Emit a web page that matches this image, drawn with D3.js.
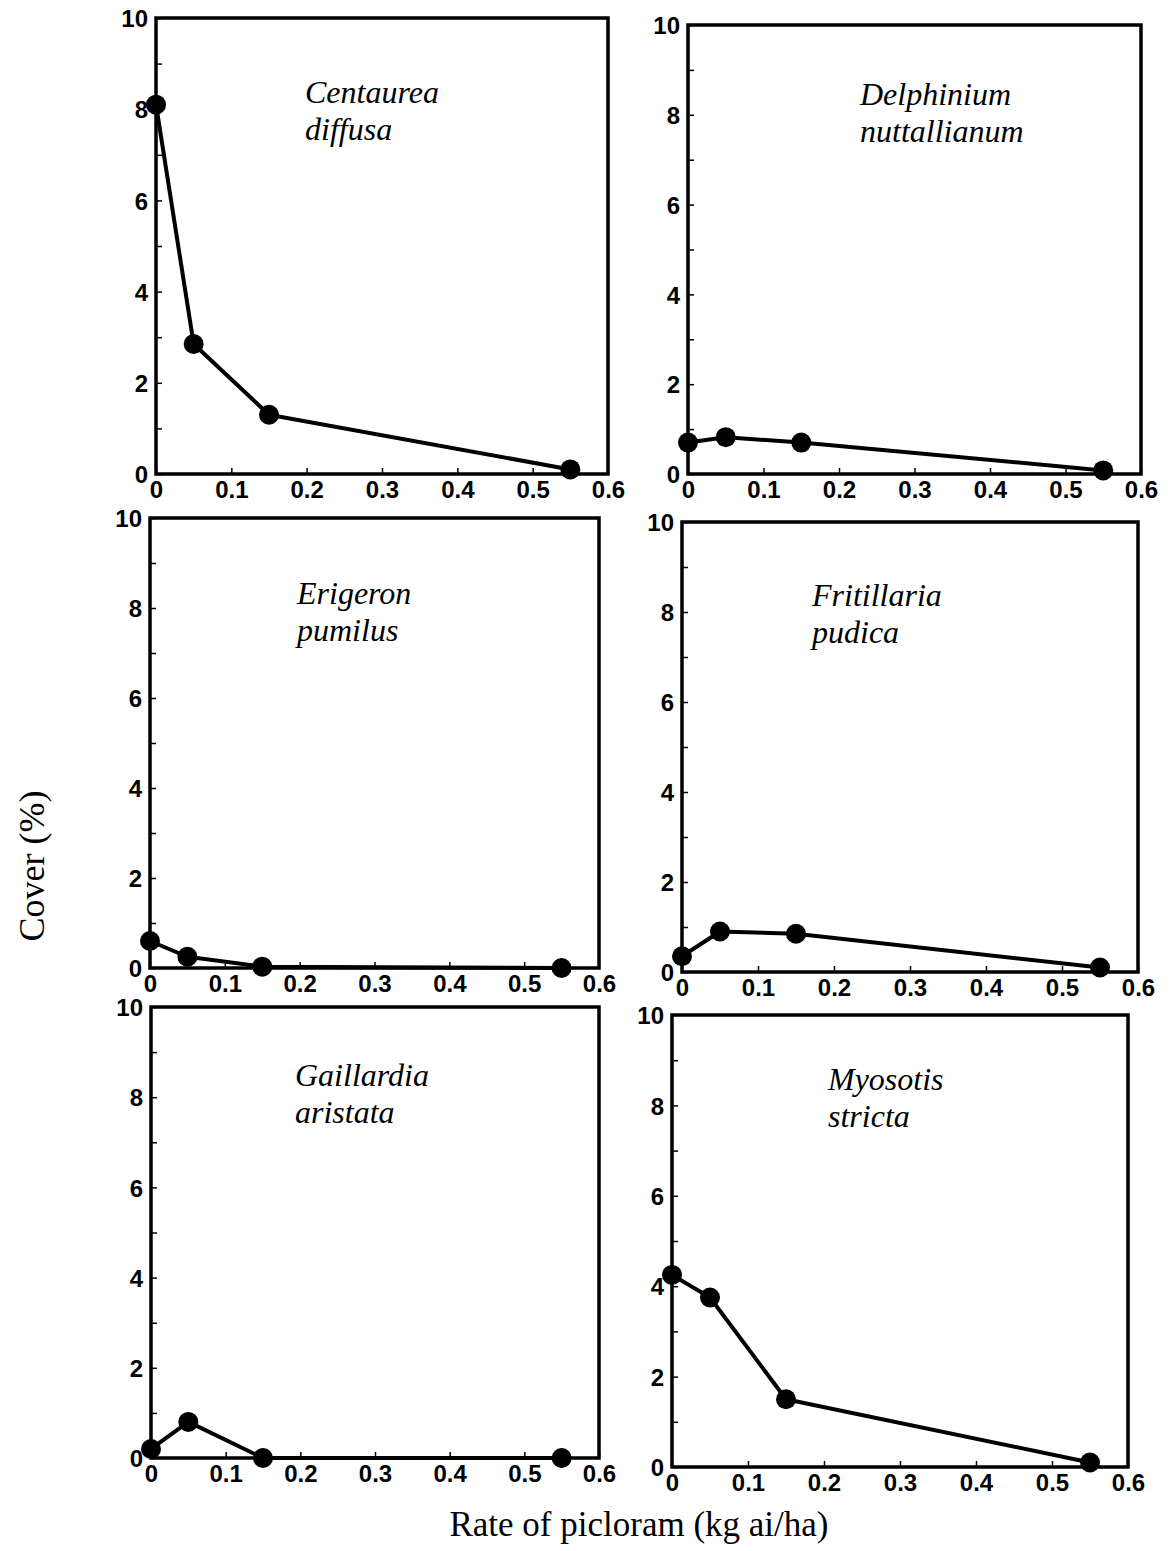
<!DOCTYPE html>
<html>
<head>
<meta charset="utf-8">
<script src="https://cdn.jsdelivr.net/npm/d3@7"></script>
<style>
  body { margin: 0; background: #fff; }
  svg { display: block; }
</style>
</head>
<body>
<svg id="chart" width="1169" height="1551"></svg>
<script>
// rates of picloram (kg ai/ha) and cover (%) per species
const rates = [0, 0.05, 0.15, 0.55];
const species = [
  ["Centaurea", "diffusa"],
  ["Delphinium", "nuttallianum"],
  ["Erigeron", "pumilus"],
  ["Fritillaria", "pudica"],
  ["Gaillardia", "aristata"],
  ["Myosotis", "stricta"]
];
const centaurea = [8.1, 2.85, 1.3, 0.1];
const delphinium = [0.7, 0.82, 0.7, 0.08];
const erigeron = [0.6, 0.25, 0.03, 0.0];
const fritillaria = [0.35, 0.9, 0.85, 0.1];
const gaillardia = [0.2, 0.8, 0.0, 0.0];
const myosotis = [4.25, 3.75, 1.5, 0.1];
const coverSeries = [centaurea, delphinium, erigeron, fritillaria, gaillardia, myosotis];

const xTicks = [0, 0.1, 0.2, 0.3, 0.4, 0.5, 0.6];
const xLabels = ["0", "0.1", "0.2", "0.3", "0.4", "0.5", "0.6"];
const yTicks = [0, 1, 2, 3, 4, 5, 6, 7, 8, 9, 10];

// panel boxes (left, top, right, bottom) and label position, scanned layout is slightly skewed
const boxes = [
  {l: 156, t: 18,   r: 608,  b: 474,  lx: 305, ly: 103},
  {l: 688, t: 25,   r: 1141, b: 474,  lx: 860, ly: 105},
  {l: 150, t: 518,  r: 599,  b: 968,  lx: 297, ly: 604},
  {l: 682, t: 522,  r: 1138, b: 972,  lx: 812, ly: 606},
  {l: 151, t: 1007, r: 599,  b: 1458, lx: 295, ly: 1086},
  {l: 672, t: 1015, r: 1128, b: 1467, lx: 828, ly: 1090}
];

const svg = d3.select('#chart');
const tickFont = '"Liberation Sans", Arial, sans-serif';
const serif = '"Liberation Serif", "Times New Roman", serif';

boxes.forEach((bx, i) => {
  const x = d3.scaleLinear().domain([0, 0.6]).range([bx.l, bx.r]);
  const y = d3.scaleLinear().domain([0, 10]).range([bx.b, bx.t]);
  const g = svg.append('g');

  const yAxis = d3.axisLeft(y)
    .tickValues(yTicks)
    .tickSize(-6)
    .tickPadding(8)
    .tickFormat(d => d % 2 === 0 ? d : '');
  const yG = g.append('g').attr('transform', 'translate(' + bx.l + ',0)').call(yAxis);

  const xAxis = d3.axisBottom(x)
    .tickValues(xTicks)
    .tickSize(-6)
    .tickPadding(7)
    .tickFormat((d, j) => xLabels[j]);
  const xG = g.append('g').attr('transform', 'translate(0,' + bx.b + ')').call(xAxis);

  [yG, xG].forEach(a => {
    a.select('.domain').remove();
    a.selectAll('line').attr('stroke', '#000').attr('stroke-width', 1.5);
    a.selectAll('text')
      .style('font-family', tickFont)
      .style('font-size', '24px')
      .style('font-weight', 'bold')
      .style('fill', '#000');
  });
  yG.selectAll('text').attr('dy', '0.36em');

  g.append('rect')
    .attr('x', bx.l).attr('y', bx.t)
    .attr('width', bx.r - bx.l).attr('height', bx.b - bx.t)
    .attr('fill', 'none').attr('stroke', '#000').attr('stroke-width', 3.5);

  const pts = rates.map((r, j) => ({r: r, v: coverSeries[i][j]}));
  const line = d3.line().x(d => x(d.r)).y(d => y(d.v));

  g.append('path')
    .datum(pts)
    .attr('d', line)
    .attr('fill', 'none')
    .attr('stroke', '#000')
    .attr('stroke-width', 4)
    .attr('stroke-linejoin', 'round');

  g.selectAll('circle')
    .data(pts)
    .enter().append('circle')
    .attr('cx', d => x(d.r))
    .attr('cy', d => y(d.v))
    .attr('r', 10)
    .attr('fill', '#000');

  const lab = g.append('text')
    .attr('x', bx.lx).attr('y', bx.ly)
    .style('font-family', serif)
    .style('font-style', 'italic')
    .style('font-size', '32px')
    .style('fill', '#000');
  lab.selectAll('tspan')
    .data(species[i])
    .enter().append('tspan')
    .attr('x', bx.lx)
    .attr('dy', (d, j) => j === 0 ? 0 : '1.17em')
    .text(d => d);
});

svg.append('text')
  .attr('transform', 'translate(44,866) rotate(-90)')
  .attr('text-anchor', 'middle')
  .style('font-family', serif)
  .style('font-size', '36px')
  .style('fill', '#000')
  .text('Cover (%)');

svg.append('text')
  .attr('x', 639).attr('y', 1536)
  .attr('text-anchor', 'middle')
  .style('font-family', serif)
  .style('font-size', '35px')
  .style('fill', '#000')
  .text('Rate of picloram (kg ai/ha)');
</script>
</body>
</html>
